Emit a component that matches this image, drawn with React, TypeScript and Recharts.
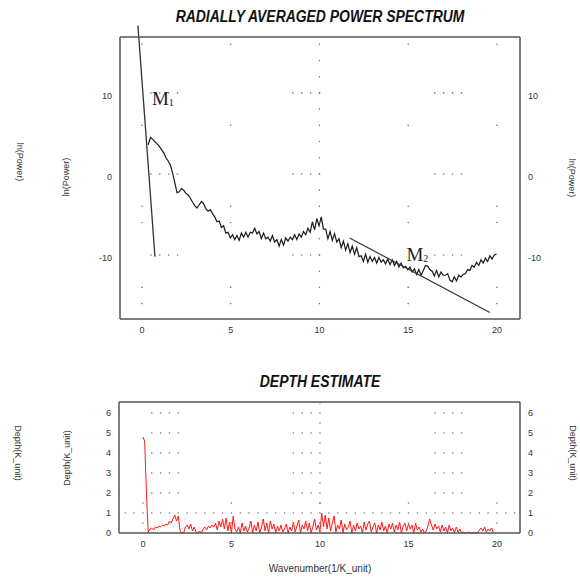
import React from 'react'
import { ComposedChart, Line, Scatter, XAxis, YAxis, ReferenceLine, ReferenceDot } from 'recharts'

// wavenumber sampling of the two traces
const POWER_START = 0.35
const POWER_STEP = 0.125
const DEPTH_STEP = 0.1

const powerValues = [
  3.9, 4.8, 4.6, 4.3, 4.0, 3.7, 3.3, 2.9, 2.3, 1.9, 1.4, 0.4, -0.8, -2.0, -1.9, -1.5, -1.7, -2.1, -2.3, -2.7,
  -3.2, -3.6, -3.9, -3.5, -3.1, -3.4, -4.0, -4.3, -4.1, -4.6, -5.0, -5.6, -5.5, -6.3, -6.1, -7.0, -6.9, -7.6, -7.2, -7.8,
  -7.3, -7.9, -7.0, -7.5, -6.9, -7.5, -6.9, -7.0, -6.4, -7.1, -6.8, -7.7, -7.0, -7.7, -7.5, -8.0, -7.3, -8.1, -7.8, -8.6,
  -7.8, -8.5, -7.6, -8.0, -7.5, -7.8, -7.2, -7.8, -7.1, -7.5, -6.8, -7.2, -6.4, -6.9, -5.6, -6.6, -5.2, -6.1, -5.0, -6.5,
  -6.5, -7.7, -6.8, -7.9, -7.1, -8.1, -7.7, -8.8, -8.0, -9.1, -8.3, -9.4, -8.6, -9.6, -8.8, -9.9, -9.8, -10.5, -9.6, -10.6,
  -9.9, -10.5, -10.0, -10.7, -10.0, -10.6, -10.3, -10.8, -10.2, -10.9, -10.3, -11.0, -10.5, -11.2, -10.7, -11.3, -11.1, -11.5, -11.2, -11.8,
  -11.4, -12.1, -11.5, -12.2, -11.6, -11.0, -11.1, -11.5, -11.7, -12.3, -11.6, -12.4, -11.8, -12.2, -12.2, -12.0, -12.8, -13.0, -12.4, -12.9,
  -12.2, -12.4, -12.1, -12.0, -11.5, -11.6, -11.0, -11.2, -10.6, -11.0, -10.3, -10.7, -10.1, -10.5, -9.8, -10.2, -9.7, -9.6,
]

const depthValues = [
  4.8, 4.6, 2.0, 0.05, 0.2, 0.25, 0.15, 0.3, 0.25, 0.35, 0.3, 0.4, 0.35, 0.45, 0.4, 0.6, 0.5, 0.7, 0.9, 0.6,
  0.85, 0.1, 0.0, 0.0, 0.3, 0.4, 0.2, 0.45, 0.1, 0.3, 0.05, 0.0, 0.1, 0.0, 0.2, 0.3, 0.15, 0.35, 0.25, 0.4,
  0.3, 0.5, 0.15, 0.6, 0.3, 0.7, 0.2, 0.75, 0.1, 0.55, 0.0, 0.85, 0.2, 0.05, 0.3, 0.0, 0.5, 0.1, 0.35, 0.05,
  0.25, 0.6, 0.0, 0.4, 0.1, 0.55, 0.0, 0.3, 0.7, 0.1, 0.5, 0.0, 0.6, 0.2, 0.45, 0.0, 0.35, 0.1, 0.4, 0.05,
  0.2, 0.45, 0.0, 0.3, 0.1, 0.55, 0.05, 0.35, 0.65, 0.0, 0.4, 0.2, 0.6, 0.1, 0.5, 0.0, 0.3, 0.7, 0.15, 0.4,
  0.05, 1.0, 0.3, 0.9, 0.2, 0.75, 0.1, 0.5, 0.85, 0.05, 0.4, 0.2, 0.65, 0.0, 0.45, 0.15, 0.3, 0.6, 0.0, 0.4,
  0.1, 0.5, 0.2, 0.35, 0.0, 0.55, 0.15, 0.45, 0.6, 0.05, 0.3, 0.5, 0.0, 0.4, 0.15, 0.55, 0.1, 0.35, 0.0, 0.45,
  0.2, 0.5, 0.05, 0.4, 0.15, 0.55, 0.0, 0.35, 0.5, 0.1, 0.45, 0.2, 0.4, 0.0, 0.5, 0.15, 0.3, 0.05, 0.2, 0.0,
  0.1, 0.35, 0.7, 0.4, 0.15, 0.45, 0.2, 0.35, 0.05, 0.4, 0.1, 0.3, 0.0, 0.4, 0.1, 0.25, 0.0, 0.3, 0.05, 0.2,
  0.0, 0.05, 0.0, 0.0, 0.05, 0.0, 0.0, 0.05, 0.0, 0.0, 0.15, 0.25, 0.1, 0.3, 0.05, 0.2, 0.1, 0.25, 0.0,
]

// straight-line fits drawn over the spectrum
const m1Fit = [{ x: -0.23, y: 18.6 }, { x: 0.73, y: -9.9 }]
const m2Fit = [{ x: 11.7, y: -7.6 }, { x: 19.6, y: -16.8 }]

const wavenumberTicks = [0, 5, 10, 15, 20]
const powerTicks = [-10, 0, 10]
const depthTicks = [0, 1, 2, 3, 4, 5, 6]

// the sparse dotted grid of the original plot
const clusterX = [0.5, 1, 1.5, 2, 8.5, 9, 9.5, 10, 16.5, 17, 17.5, 18]
const sparseX = [0, 5, 15, 20]
const powerSparseY = [16.3, 6.3, -3.7, -5.7, -13.7, -15.7]
const powerCenterY = [16.3, 14.3, 12.3, 10.3, 8.3, 6.3, 4.3, 2.3, 0.3, -1.7, -3.7, -5.7, -7.7, -9.7, -11.7, -13.7, -15.7]
const powerClusterY = [10.3, 0.3, -9.7]
const depthClusterY = [2, 3, 4, 5, 6]
const depthCenterY = [6.5, 5.5, 4.5, 3.5, 2.5, 1.5, 0.5]
const depthSparseY = [1.5, 0.5]
const depthDenseX = [
  -1, -0.5, 0, 0.5, 1, 1.5, 2, 2.5, 3, 3.5, 4, 4.5, 5, 5.5, 6, 6.5, 7, 7.5, 8, 8.5, 9, 9.5, 10,
  10.5, 11, 11.5, 12, 12.5, 13, 13.5, 14, 14.5, 15, 15.5, 16, 16.5, 17, 17.5, 18, 18.5, 19, 19.5, 20, 20.5, 21,
]

const powerData = powerValues.map((v, i) => ({ k: +(POWER_START + i * POWER_STEP).toFixed(3), v }))
const depthData = depthValues.map((v, i) => ({ k: +(i * DEPTH_STEP).toFixed(2), v }))

const powerGrid = [
  ...sparseX.flatMap((k) => powerSparseY.map((v) => ({ k, v }))),
  ...powerCenterY.map((v) => ({ k: 10, v })),
  ...powerClusterY.flatMap((v) => clusterX.map((k) => ({ k, v }))),
]
const depthGrid = [
  ...depthClusterY.flatMap((v) => clusterX.map((k) => ({ k, v }))),
  ...depthCenterY.map((v) => ({ k: 10, v })),
  ...depthSparseY.flatMap((v) => [0, 5, 10, 15, 20].map((k) => ({ k, v }))),
  ...depthDenseX.map((k) => ({ k, v: 1 })),
]

const FONT = '"Liberation Sans", Arial, sans-serif'
const tickStyle = { fontSize: 9, fill: '#333', fontFamily: FONT }
const frame = { stroke: '#555', strokeWidth: 1.5 }

const gridDot = (p: any) => <circle cx={p.cx} cy={p.cy} r={0.8} fill="#777" />

const markLabel = (sub: string) => (p: any) => (
  <text x={p.cx} y={p.cy} fontFamily='"Liberation Serif", "Times New Roman", serif' fontSize={19} fill="#222">
    M<tspan fontSize={10} dy={1}>{sub}</tspan>
  </text>
)

function SideLabel({ text, x, y, rot }: { text: string; x: number; y: number; rot: number }) {
  return (
    <div
      style={{
        position: 'absolute', left: x, top: y, transform: `translate(-50%, -50%) rotate(${rot}deg)`,
        fontSize: 9, color: '#333', whiteSpace: 'nowrap', fontFamily: FONT,
      }}
    >
      {text}
    </div>
  )
}

function Title({ text, y }: { text: string; y: number }) {
  return (
    <div
      style={{
        position: 'absolute', left: 320, top: y, transform: 'translate(-50%, -50%) scaleX(0.87)',
        fontSize: 16, fontWeight: 'bold', fontStyle: 'italic', color: '#111', whiteSpace: 'nowrap', fontFamily: FONT,
      }}
    >
      {text}
    </div>
  )
}

export default function App() {
  return (
    <div style={{ position: 'absolute', left: 0, top: 0, width: 580, height: 581, background: '#fff', fontFamily: FONT }}>
      <div style={{ position: 'absolute', left: 0, top: 0 }}>
        <ComposedChart width={580} height={350} margin={{ top: 36, right: 20, bottom: 1, left: 80 }}>
          <XAxis dataKey="k" type="number" domain={[-1.24, 21.3]} ticks={wavenumberTicks} tickLine={false} axisLine={frame} tick={tickStyle} height={30} />
          <XAxis xAxisId="top" dataKey="k" orientation="top" type="number" domain={[-1.24, 21.3]} ticks={wavenumberTicks} tick={false} tickLine={false} axisLine={frame} height={1} />
          <YAxis yAxisId="l" type="number" domain={[-17.6, 17.2]} ticks={powerTicks} tickLine={false} axisLine={frame} tick={tickStyle} width={40} />
          <YAxis yAxisId="r" orientation="right" type="number" domain={[-17.6, 17.2]} ticks={powerTicks} tickLine={false} axisLine={frame} tick={tickStyle} width={40} />
          <Scatter yAxisId="l" data={powerGrid} dataKey="v" shape={gridDot} isAnimationActive={false} />
          {/* invisible series so the top and right frame axes are drawn */}
          <Line xAxisId="top" yAxisId="r" data={powerData} dataKey="v" stroke="none" dot={false} isAnimationActive={false} />
          <Line yAxisId="l" data={powerData} dataKey="v" stroke="#1a1a1a" strokeWidth={1.2} dot={false} isAnimationActive={false} />
          <ReferenceLine yAxisId="l" segment={m1Fit} stroke="#333" strokeWidth={1.3} ifOverflow="visible" />
          <ReferenceLine yAxisId="l" segment={m2Fit} stroke="#333" strokeWidth={1.2} ifOverflow="visible" />
          <ReferenceDot yAxisId="l" x={0.56} y={8.8} r={0} ifOverflow="visible" shape={markLabel('1')} />
          <ReferenceDot yAxisId="l" x={14.9} y={-10.4} r={0} ifOverflow="visible" shape={markLabel('2')} />
        </ComposedChart>
      </div>

      <div style={{ position: 'absolute', left: 0, top: 360 }}>
        <ComposedChart width={580} height={221} margin={{ top: 41, right: 20, bottom: 18, left: 79 }}>
          <XAxis dataKey="k" type="number" domain={[-1.35, 21.3]} ticks={wavenumberTicks} tickLine={false} axisLine={frame} tick={tickStyle} height={30} />
          <XAxis xAxisId="top" dataKey="k" orientation="top" type="number" domain={[-1.35, 21.3]} ticks={wavenumberTicks} tick={false} tickLine={false} axisLine={frame} height={1} />
          <YAxis yAxisId="l" type="number" domain={[0, 6.55]} ticks={depthTicks} tickLine={false} axisLine={frame} tick={tickStyle} width={40} />
          <YAxis yAxisId="r" orientation="right" type="number" domain={[0, 6.55]} ticks={depthTicks} tickLine={false} axisLine={frame} tick={tickStyle} width={40} />
          <Scatter yAxisId="l" data={depthGrid} dataKey="v" shape={gridDot} isAnimationActive={false} />
          <Line xAxisId="top" yAxisId="r" data={depthData} dataKey="v" stroke="none" dot={false} isAnimationActive={false} />
          <Line yAxisId="l" data={depthData} dataKey="v" stroke="#ff1a1a" strokeWidth={1} dot={false} isAnimationActive={false} />
        </ComposedChart>
      </div>

      <Title text="RADIALLY AVERAGED POWER SPECTRUM" y={17} />
      <Title text="DEPTH ESTIMATE" y={382} />

      <SideLabel text="ln(Power)" x={20} y={162} rot={90} />
      <SideLabel text="ln(Power)" x={66} y={177} rot={-90} />
      <SideLabel text="ln(Power)" x={572} y={178} rot={90} />
      <SideLabel text="Depth(K_unit)" x={18} y={453} rot={90} />
      <SideLabel text="Depth(K_unit)" x={67} y={458} rot={-90} />
      <SideLabel text="Depth(K_unit)" x={573} y={453} rot={90} />

      <div style={{ position: 'absolute', left: 320, top: 568, transform: 'translate(-50%, -50%)', fontSize: 10, color: '#333', whiteSpace: 'nowrap' }}>
        Wavenumber(1/K_unit)
      </div>
    </div>
  )
}
